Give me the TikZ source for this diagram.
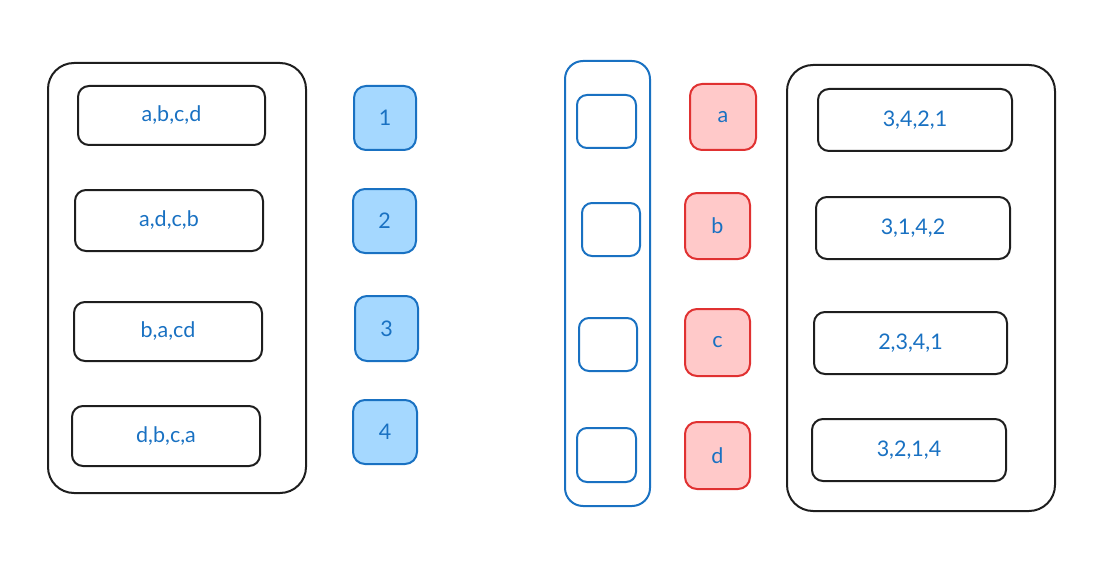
\documentclass[tikz,border=0pt]{standalone}
\usepackage{fontspec}
\setmainfont{Lato}
\definecolor{txtblue}{HTML}{1971C2}
\definecolor{lblue}{HTML}{A5D8FF}
\definecolor{sred}{HTML}{E03131}
\definecolor{lred}{HTML}{FFC9C9}
\definecolor{ink}{HTML}{1E1E1E}
\tikzset{
  lbl/.style={text=txtblue, font=\fontsize{21.5}{24}\selectfont},
  outer/.style={draw=ink, line width=2pt, rounded corners=26pt, inner sep=0pt},
  item/.style={draw=ink, line width=2pt, rounded corners=11pt, inner sep=0pt, lbl},
  numbox/.style={draw=txtblue, fill=lblue, line width=2pt, rounded corners=12pt,
    inner sep=0pt, lbl},
  letbox/.style={draw=sred, fill=lred, line width=2pt, rounded corners=12pt,
    inner sep=0pt, lbl},
  slot/.style={draw=txtblue, line width=2pt, rounded corners=10pt, inner sep=0pt},
  slotcol/.style={draw=txtblue, line width=2pt, rounded corners=18pt, inner sep=0pt},
}
\begin{document}
\begin{tikzpicture}[x=1pt,y=-1pt]
\useasboundingbox (0,0) rectangle (1107,572);
% left container
\node[outer, minimum width=258pt, minimum height=430pt] (L) at (177,278) {};
\node[item, minimum width=187pt, minimum height=59pt] (L1) at (171.5,115.5) {a,b,c,d};
\node[item, minimum width=188pt, minimum height=61pt] (L2) at (169,220.5) {a,d,c,b};
\node[item, minimum width=188pt, minimum height=59pt] (L3) at (168,331.5) {b,a,cd};
\node[item, minimum width=188pt, minimum height=60pt] (L4) at (166,436) {d,b,c,a};
% number boxes
\node[numbox, minimum width=62pt, minimum height=64pt] (N1) at (385,118) {1};
\node[numbox, minimum width=63pt, minimum height=64pt] (N2) at (384.5,221) {2};
\node[numbox, minimum width=63pt, minimum height=65pt] (N3) at (386.5,328.5) {3};
\node[numbox, minimum width=64pt, minimum height=64pt] (N4) at (385,432) {4};
% slot column
\node[slotcol, minimum width=85pt, minimum height=445pt] (S) at (607.5,283.5) {};
\node[slot, minimum width=59pt, minimum height=53pt] (S1) at (606.5,121.5) {};
\node[slot, minimum width=58pt, minimum height=53pt] (S2) at (611,229.5) {};
\node[slot, minimum width=58pt, minimum height=53pt] (S3) at (608,344.5) {};
\node[slot, minimum width=59pt, minimum height=54pt] (S4) at (606.5,455) {};
% letter boxes
\node[letbox, minimum width=66pt, minimum height=66pt] (A) at (723,117) {a};
\node[letbox, minimum width=65pt, minimum height=66pt] (B) at (717.5,226) {b};
\node[letbox, minimum width=65pt, minimum height=67pt] (C) at (717.5,342.5) {c};
\node[letbox, minimum width=65pt, minimum height=67pt] (D) at (717.5,455.5) {d};
% right container
\node[outer, minimum width=268pt, minimum height=446pt] (R) at (921,288) {};
\node[item, minimum width=194pt, minimum height=62pt] (R1) at (915,120) {3,4,2,1};
\node[item, minimum width=194pt, minimum height=62pt] (R2) at (913,228) {3,1,4,2};
\node[item, minimum width=193pt, minimum height=62pt] (R3) at (910.5,343) {2,3,4,1};
\node[item, minimum width=194pt, minimum height=62pt] (R4) at (909,450) {3,2,1,4};
\end{tikzpicture}
\end{document}
